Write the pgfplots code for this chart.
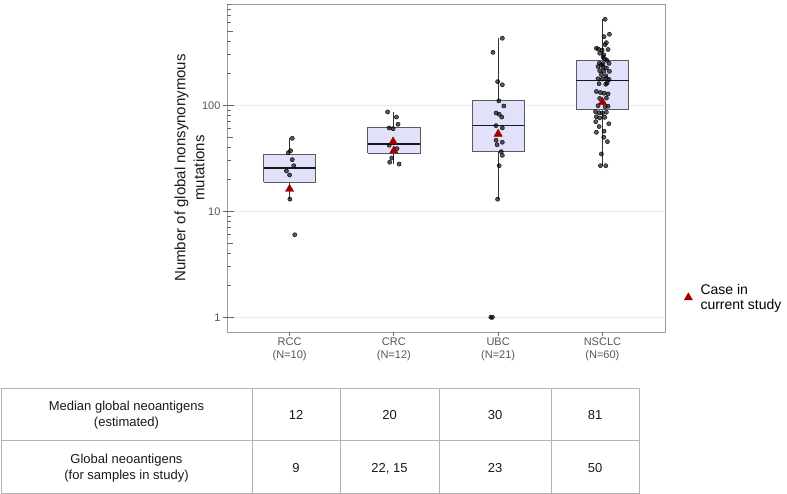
\documentclass[border=0pt]{standalone}
\usepackage{pgfplots}
\pgfplotsset{compat=1.18}
\usepackage{fontspec}
\setmainfont{Liberation Sans}
\definecolor{boxfill}{HTML}{E1E1FA}
\definecolor{boxborder}{HTML}{5A5A5A}
\definecolor{bordergray}{HTML}{9E9E9E}
\definecolor{tickcol}{HTML}{666666}
\definecolor{gridgray}{HTML}{EBEBEB}
\definecolor{tickgray}{HTML}{555555}
\definecolor{casered}{HTML}{A00000}
\definecolor{tablegray}{HTML}{B4B4B4}

\pgfplotstableread{
x y
1.026 48.8
1.010 37.3
0.987 35.7
1.026 30.7
1.040 26.9
0.970 24.0
1.000 22.0
1.003 13.0
1.050 6.0
1.940 86.5
2.025 77.4
2.040 66.2
1.955 61.1
1.993 60.1
1.955 42.0
2.030 39.0
1.980 31.8
1.960 29.0
2.050 27.9
3.040 429
2.950 316
2.995 167
3.040 156
3.007 110
3.055 98.5
2.980 84.6
3.010 82.3
3.035 77.5
2.980 64.2
3.040 61.1
2.980 46.8
3.040 44.8
2.990 42.5
3.030 36.5
3.040 33.7
3.010 26.9
2.995 13.0
2.930 1.0
2.945 1.0
4.026 648
4.067 468
4.016 444
4.038 390
4.026 373
3.942 345
3.962 338
3.997 332
4.054 336
4.013 300
3.974 310
4.006 285
4.026 272
4.042 266
3.971 250
4.006 247
4.064 249
3.990 240
3.958 232
4.006 230
4.038 225
3.974 212
4.013 210
4.067 209
3.990 195
4.032 190
3.958 178
4.000 177
4.038 180
4.064 175
3.968 160
4.032 158
4.045 162
3.942 135
3.981 132
4.016 130
4.054 128
3.974 116
4.038 117
3.958 99
4.026 97
4.054 98
3.933 87
3.968 85
4.000 84
4.038 86
3.942 78
3.974 76
4.022 77
3.936 70
4.061 67
3.968 63
4.016 57
3.942 55.6
4.013 49.9
4.048 45.4
3.990 34.7
3.981 26.9
4.032 26.9
}\samplepoints

\pgfplotstableread{
x y
1.000 16.2
1.993 45.4
2.000 37.3
3.000 53.6
4.000 107
}\casepoints

\begin{document}
\begin{tikzpicture}
\path[use as bounding box] (0,0) rectangle (787pt,494pt);
\begin{axis}[
  at={(227pt,162pt)}, anchor=south west,
  scale only axis, width=438pt, height=328pt,
  ymode=log, ymin=0.726, ymax=903,
  xmin=0.4, xmax=4.6,
  clip=false,
  unbounded coords=jump,
  xtick={1,2,3,4},
  xticklabels={{RCC\\(N=10)},{CRC\\(N=12)},{UBC\\(N=21)},{NSCLC\\(N=60)}},
  xticklabel style={align=center, font=\fontsize{11}{12.6}\selectfont, text=tickgray, yshift=-2.5pt},
  ytick={1,10,100},
  log ticks with fixed point,
  /pgf/number format/assume math mode=true,
  yticklabel style={font=\fontsize{11}{13}\selectfont, text=tickgray, xshift=-3pt},
  tick pos=left,
  major tick length=0pt,
  minor tick length=0pt,
  minor ytick={},
  axis line style={draw=bordergray, line width=0.8pt},
  ymajorgrids,
  major grid style={draw=gridgray, line width=0.6pt},
  legend style={at={(axis description cs:1,0.105)}, anchor=west, xshift=16pt,
    draw=none, fill=none, font=\fontsize{14}{15.3}\selectfont,
    nodes={align=left, inner xsep=8pt}},
  legend cell align=left,
]
% tick marks (log ticks inside, axis ticks outside)
\addplot[forget plot, tickcol, line width=0.8pt] coordinates {
(0.3616,1) (0.4671,1) (nan,nan) (0.3616,10) (0.4671,10) (nan,nan) (0.3616,100) (0.4671,100) (nan,nan)
(0.4,5) (0.4575,5) (nan,nan) (0.4,50) (0.4575,50) (nan,nan) (0.4,500) (0.4575,500) (nan,nan)
(0.4,2) (0.4384,2) (nan,nan) (0.4,3) (0.4384,3) (nan,nan) (0.4,4) (0.4384,4) (nan,nan)
(0.4,6) (0.4384,6) (nan,nan) (0.4,7) (0.4384,7) (nan,nan) (0.4,8) (0.4384,8) (nan,nan) (0.4,9) (0.4384,9) (nan,nan)
(0.4,20) (0.4384,20) (nan,nan) (0.4,30) (0.4384,30) (nan,nan) (0.4,40) (0.4384,40) (nan,nan)
(0.4,60) (0.4384,60) (nan,nan) (0.4,70) (0.4384,70) (nan,nan) (0.4,80) (0.4384,80) (nan,nan) (0.4,90) (0.4384,90) (nan,nan)
(0.4,200) (0.4384,200) (nan,nan) (0.4,300) (0.4384,300) (nan,nan) (0.4,400) (0.4384,400) (nan,nan)
(0.4,600) (0.4384,600) (nan,nan) (0.4,700) (0.4384,700) (nan,nan) (0.4,800) (0.4384,800) (nan,nan) (0.4,900) (0.4384,900) (nan,nan)
(1,0.726) (1,0.6725) (nan,nan) (2,0.726) (2,0.6725) (nan,nan) (3,0.726) (3,0.6725) (nan,nan) (4,0.726) (4,0.6725)
};
% whiskers
\addplot[forget plot, black!80, line width=0.8pt] coordinates {(1,13) (1,48.8)};
\addplot[forget plot, black!80, line width=0.8pt] coordinates {(2,27.9) (2,86.5)};
\addplot[forget plot, black!80, line width=0.8pt] coordinates {(3,13) (3,429)};
\addplot[forget plot, black!80, line width=0.8pt] coordinates {(4,26.9) (4,648)};
% boxes (lower quartile, upper quartile)
\addplot[forget plot, draw=boxborder, fill=boxfill, line width=0.8pt, line join=miter] coordinates {(0.75,18.8) (1.25,18.8) (1.25,34.5) (0.75,34.5) (0.75,18.8)};
\addplot[forget plot, draw=boxborder, fill=boxfill, line width=0.8pt, line join=miter] coordinates {(1.75,35.3) (2.25,35.3) (2.25,62) (1.75,62) (1.75,35.3)};
\addplot[forget plot, draw=boxborder, fill=boxfill, line width=0.8pt, line join=miter] coordinates {(2.75,36.8) (3.25,36.8) (3.25,110) (2.75,110) (2.75,36.8)};
\addplot[forget plot, draw=boxborder, fill=boxfill, line width=0.8pt, line join=miter] coordinates {(3.75,91.7) (4.25,91.7) (4.25,267) (3.75,267) (3.75,91.7)};
% medians
\addplot[forget plot, black!90, line width=1.5pt] coordinates {(0.75,25.5) (1.25,25.5)};
\addplot[forget plot, black!90, line width=1.5pt] coordinates {(1.75,42.9) (2.25,42.9)};
\addplot[forget plot, black!90, line width=1.5pt] coordinates {(2.75,64.8) (3.25,64.8)};
\addplot[forget plot, black!90, line width=1.5pt] coordinates {(3.75,172) (4.25,172)};
% samples
\addplot[forget plot, only marks, mark=*, mark size=2.1pt, mark options={draw=none, fill=black, fill opacity=0.65}] table[x=x, y=y] {\samplepoints};
\addplot[only marks, mark=triangle*, mark size=4.8pt, mark options={draw=casered, fill=casered}] table[x=x, y=y] {\casepoints};
\addlegendentry{Case in\\current study}
\end{axis}
\node[rotate=90, align=center, font=\fontsize{15}{19}\selectfont, text=black!90] at (189.5pt,326pt) {Number of global nonsynonymous\\mutations};
% table
\draw[tablegray, line width=0.8pt] (1pt,0.7pt) rectangle (639pt,105.7pt);
\draw[tablegray, line width=0.8pt] (1pt,53.3pt) -- (639pt,53.3pt);
\foreach \xx in {252,340,439,551} {\draw[tablegray, line width=0.8pt] (\xx pt,0.7pt) -- (\xx pt,105.7pt);}
\begin{scope}[every node/.style={align=center, font=\fontsize{13}{16.6}\selectfont, text=black!90}]
\node at (126.5pt,79pt) {Median global neoantigens\\(estimated)};
\node at (126.5pt,25.7pt) {Global neoantigens\\(for samples in study)};
\node at (296pt,79pt) {12};
\node at (389.5pt,79pt) {20};
\node at (495pt,79pt) {30};
\node at (595pt,79pt) {81};
\node at (296pt,25.7pt) {9};
\node at (389.5pt,25.7pt) {22, 15};
\node at (495pt,25.7pt) {23};
\node at (595pt,25.7pt) {50};
\end{scope}
\end{tikzpicture}
\end{document}
